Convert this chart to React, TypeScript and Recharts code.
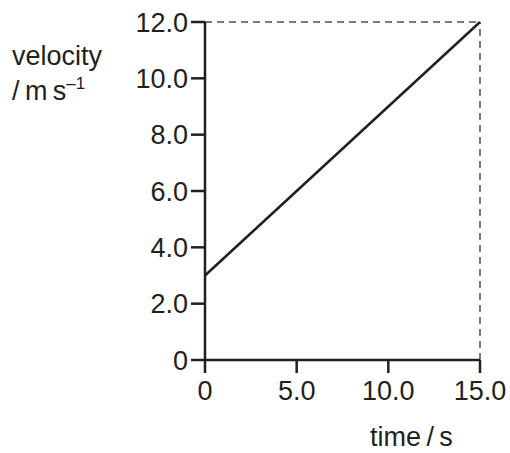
import React from "react";
import { LineChart, Line, XAxis, YAxis, ReferenceLine, Label } from "recharts";

const times = [0, 15];
const velocities = [3, 12];
const xTicks = [0, 5, 10, 15];
const yTicks = [0, 2, 4, 6, 8, 10, 12];

const data = times.map((t, i) => ({ time: t, velocity: velocities[i] }));

const INK = "#231f20";
const FONT = "'Liberation Sans', Arial, sans-serif";

const fmt = (v: number) => (v === 0 ? "0" : v.toFixed(1));

const YLabel = () => (
  <g fontFamily={FONT} fill={INK}>
    <text x={12} y={65} fontSize={27}>velocity</text>
    <text x={12} y={100} fontSize={27}>
      {"/\u2009m\u2009s"}
      <tspan fontSize={17} dy={-11}>–1</tspan>
    </text>
  </g>
);

const XLabel = () => (
  <text x={370} y={446} fontSize={27} fontFamily={FONT} fill={INK}>
    {"time\u2009/\u2009s"}
  </text>
);

export default function App() {
  return (
    <div style={{ position: "absolute", left: 0, top: 0, background: "#fff" }}>
      <LineChart
        width={510}
        height={453}
        data={data}
        margin={{ top: 22, right: 30, bottom: 53, left: 0 }}
      >
        <XAxis
          dataKey="time"
          type="number"
          domain={[0, 15]}
          ticks={xTicks}
          tickFormatter={fmt}
          height={40}
          tickSize={13}
          tickMargin={8}
          axisLine={{ stroke: INK, strokeWidth: 2.5 }}
          tickLine={{ stroke: INK, strokeWidth: 2.5 }}
          tick={{ fill: INK, fontSize: 27, fontFamily: FONT }}
          interval={0}
        >
          <Label content={<XLabel />} />
        </XAxis>
        <YAxis
          type="number"
          domain={[0, 12]}
          ticks={yTicks}
          tickFormatter={fmt}
          width={205}
          tickSize={14}
          tickMargin={3}
          axisLine={{ stroke: INK, strokeWidth: 2.5 }}
          tickLine={{ stroke: INK, strokeWidth: 2.5 }}
          tick={{ fill: INK, fontSize: 27, fontFamily: FONT }}
          interval={0}
        >
          <Label content={<YLabel />} />
        </YAxis>
        <ReferenceLine y={12} stroke="#7a7a7a" strokeWidth={2} strokeDasharray="7 5" />
        <ReferenceLine x={15} stroke="#7a7a7a" strokeWidth={2} strokeDasharray="7 5" />
        <Line
          type="linear"
          dataKey="velocity"
          stroke={INK}
          strokeWidth={2.5}
          dot={false}
          isAnimationActive={false}
        />
      </LineChart>
    </div>
  );
}
